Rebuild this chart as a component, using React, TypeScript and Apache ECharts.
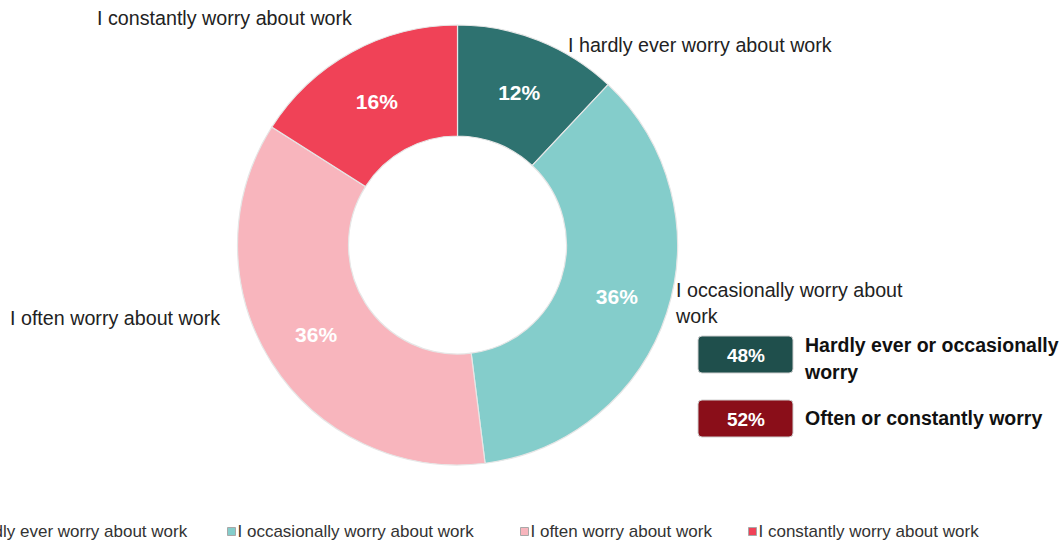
import React, { useEffect, useRef } from "react";
import * as echarts from "echarts";

const categories = [
  "I hardly ever worry about work",
  "I occasionally worry about work",
  "I often worry about work",
  "I constantly worry about work",
];
const values = [12, 36, 36, 16];
const sliceLabels = [
  "I hardly ever worry about work",
  "I occasionally worry about\nwork",
  "I often worry about work",
  "I constantly worry about work",
];
const colors = ["#2E7270", "#84CDCB", "#F8B5BD", "#F04257"];
const groupLabels = ["Hardly ever or occasionally\nworry", "Often or constantly worry"];
const groupColors = ["#1F4F4C", "#8A0E19"];

// outside label anchor points (left-aligned text start, vertical middle)
const labelAnchors = [
  { x: 568, y: 45 },
  { x: 676, y: 303 },
  { x: 10, y: 318 },
  { x: 97, y: 18 },
];
const legendLefts = [-51, 227, 520, 748];

const FONT = "'Liberation Sans', Arial, sans-serif";

export default function App() {
  const ref = useRef<HTMLDivElement>(null);
  useEffect(() => {
    if (!ref.current) return;
    const chart = echarts.init(ref.current, null, { renderer: "svg" });
    const data = categories.map((c, i) => ({
      name: c,
      value: values[i],
      itemStyle: { color: colors[i] },
    }));
    const group1 = values[0] + values[1];
    const group2 = values[2] + values[3];
    const groupVals = [group1, group2];
    const boxTops = [336, 400];
    const graphics: any[] = [];
    groupVals.forEach((g, i) => {
      graphics.push({
        type: "rect",
        shape: { x: 698, y: boxTops[i], width: 95, height: 37, r: 4 },
        style: { fill: groupColors[i], stroke: "#d0d0d0", lineWidth: 1 },
      });
      graphics.push({
        type: "text",
        x: 746,
        y: boxTops[i] + 19,
        style: {
          text: g + "%",
          fill: "#fff",
          font: `bold 19px ${FONT}`,
          align: "center",
          verticalAlign: "middle",
        },
      });
    });
    graphics.push({
      type: "text",
      x: 805,
      y: 358,
      style: {
        text: groupLabels[0],
        fill: "#111",
        font: `bold 19.5px ${FONT}`,
        lineHeight: 27,
        align: "left",
        verticalAlign: "middle",
      },
    });
    graphics.push({
      type: "text",
      x: 805,
      y: 418,
      style: {
        text: groupLabels[1],
        fill: "#111",
        font: `bold 19.5px ${FONT}`,
        align: "left",
        verticalAlign: "middle",
      },
    });

    const option: any = {
      animation: false,
      textStyle: { fontFamily: FONT },
      legend: categories.map((c, i) => ({
        data: [{ name: c, itemStyle: { color: colors[i], borderColor: "#a8a8a8", borderWidth: 1 } }],
        left: legendLefts[i],
        top: 523,
        padding: 0,
        itemWidth: 8,
        itemHeight: 8,
        icon: "rect",
        selectedMode: false,
        textStyle: { fontSize: 17, color: "#333", fontFamily: FONT, padding: [0, 0, 0, -3] },
      })),
      graphic: graphics,
      series: [
        {
          type: "pie",
          center: [457.5, 245],
          radius: [109, 220],
          startAngle: 90,
          clockwise: true,
          data,
          itemStyle: { borderColor: "#e6e6e6", borderWidth: 1.2 },
          label: {
            show: true,
            position: "inside",
            formatter: "{c}%",
            color: "#fff",
            fontWeight: "bold",
            fontSize: 21,
            fontFamily: FONT,
          },
          labelLine: { show: false },
          labelLayout: (p: any) => ({ dy: p.dataIndex === 0 || p.dataIndex === 3 ? 3 : 0 }),
          emphasis: { disabled: true },
        },
        {
          type: "pie",
          center: [457.5, 245],
          radius: [109, 220],
          startAngle: 90,
          clockwise: true,
          silent: true,
          data: categories.map((c, i) => ({
            name: c,
            value: values[i],
            itemStyle: { color: "rgba(0,0,0,0)", borderWidth: 0 },
          })),
          label: {
            show: true,
            position: "outside",
            formatter: (p: any) => sliceLabels[p.dataIndex],
            color: "#222",
            fontSize: 19.7,
            lineHeight: 26,
            fontFamily: FONT,
          },
          labelLine: { show: false },
          labelLayout: (p: any) => ({
            x: labelAnchors[p.dataIndex].x,
            y: labelAnchors[p.dataIndex].y,
            align: "left",
            verticalAlign: "middle",
            hideOverlap: false,
          }),
          emphasis: { disabled: true },
        },
      ],
    };
    chart.setOption(option);
    return () => chart.dispose();
  }, []);
  return (
    <div
      ref={ref}
      style={{ position: "absolute", left: 0, top: 0, width: 1061, height: 541, background: "#fff" }}
    />
  );
}
